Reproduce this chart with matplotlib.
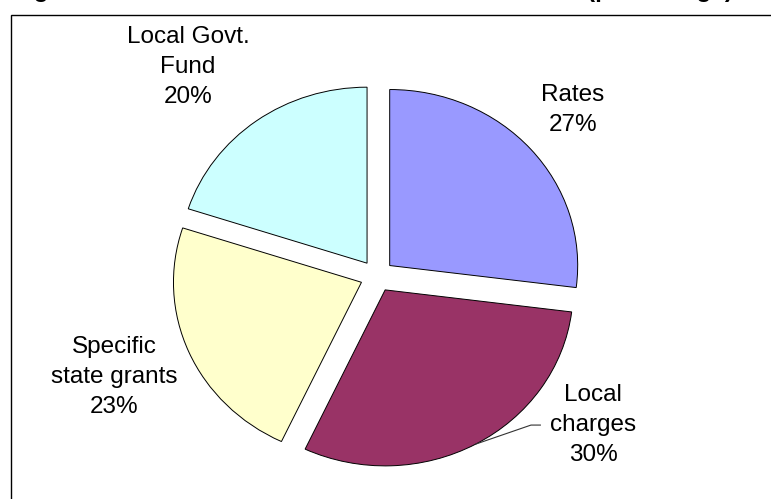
import matplotlib
matplotlib.use('Agg')
from matplotlib import pyplot as plt
import matplotlib.patches as mpatches
import numpy as np

# data
labels = ['Rates', 'Local\ncharges', 'Specific\nstate grants', 'Local Govt.\nFund']
shares = [27, 30, 23, 20]
colors = ['#9999FF', '#993366', '#FFFFCC', '#CCFFFF']
title = 'Figure 3 : Sources of Income of Local Authorities (percentage)'

# where excel put the labels (data units, pie radius = 1)
label_pos = [(1.043, 0.943), (1.149, -0.847), (-1.399, -0.574), (-1.005, 1.188)]

plt.rcParams['font.family'] = ['Liberation Sans', 'DejaVu Sans']

W, H = 771, 499
fig = plt.figure(figsize=(W / 100, H / 100), dpi=100)
ax = fig.add_axes([0, 0, 1, 1])

wedges, _ = ax.pie(shares, colors=colors, startangle=90, counterclock=False,
                   explode=[0.09] * len(shares),
                   wedgeprops=dict(edgecolor='black', linewidth=0.7))

# pie centre at (377, 276) px, radius ~188 px wide, ~176 px tall
cx, cy, rx, ry = 377, 276, 188, 176
ax.set_aspect('auto')
ax.set_xlim(-cx / rx, (W - cx) / rx)
ax.set_ylim(-(H - cy) / ry, cy / ry)
ax.axis('off')

for i, w in enumerate(wedges):
    txt = '%s\n%d%%' % (labels[i], shares[i])
    ax.text(label_pos[i][0], label_pos[i][1], txt, ha='center', va='center',
            fontsize=17.5, linespacing=1.48, color='black')

# leader line for local charges
w = wedges[1]
mid = np.deg2rad((w.theta1 + w.theta2) / 2)
sx = w.center[0] + np.cos(mid)
sy = w.center[1] + np.sin(mid)
lx, ly = label_pos[1]
ax.plot([sx, lx - 0.33, lx - 0.28], [sy, ly, ly], color='#333333', lw=0.8)

# border box (runs off the right and bottom)
fig.patches.append(mpatches.Rectangle((10.5 / W, -0.05), 1.0, 1 - 14.5 / H + 0.05,
                                      transform=fig.transFigure, fill=False,
                                      edgecolor='black', linewidth=1.0))

# title cut off at the top of the image, only the bottom of it shows
fig.text(12 / W, 1 + 2.5 / H, title, fontsize=17.5, fontweight='bold',
         va='baseline', ha='left')

plt.savefig('out.png', dpi=100)
